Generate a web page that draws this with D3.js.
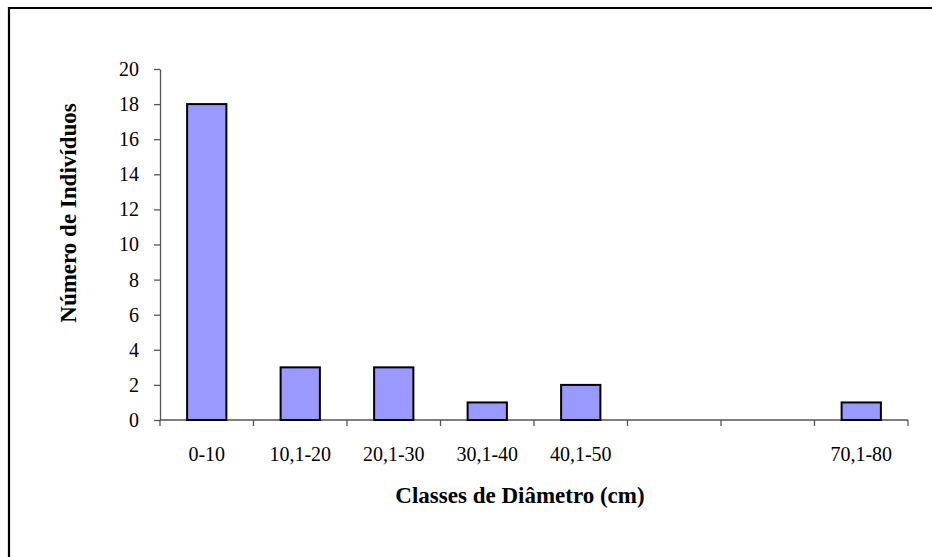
<!DOCTYPE html>
<html lang="pt">
<head>
    <meta charset="UTF-8">
    <title>Classes de Diâmetro</title>
    <script src="https://d3js.org/d3.v7.min.js"></script>
    <style>
        body{
            margin: 0;
            background: #fff;
        }
        .axis path,
        .axis line{
            fill: none;
            stroke: #555;
            stroke-width: 1.3;
        }
        .axis text{
            font-family: "Liberation Serif", "Times New Roman", serif;
            font-size: 20px;
            fill: black;
        }
        .title{
            font-family: "Liberation Serif", "Times New Roman", serif;
            font-size: 23px;
            font-weight: bold;
        }
    </style>
</head>
<body>
    <script>
        // dados
        var categories = ["0-10","10,1-20","20,1-30","30,1-40","40,1-50","50,1-60","60,1-70","70,1-80"];
        var tickLabels = ["0-10","10,1-20","20,1-30","30,1-40","40,1-50","","","70,1-80"];
        var values = [18,3,3,1,2,0,0,1];
        var yTicks = [0,2,4,6,8,10,12,14,16,18,20];

        var w = 932;
        var h = 557;
        var padLeft = 160, padRight = 908, padTop = 69, padBottom = 420;

        var svg = d3.select("body")
            .append("svg")
            .attr("width", w)
            .attr("height", h);

        // moldura (cortada à direita e em baixo)
        svg.append("path")
            .attr("d", "M9,560 L9,8 L940,8")
            .attr("fill", "none")
            .attr("stroke", "black")
            .attr("stroke-width", 2.2);

        var xScale = d3.scaleBand()
            .domain(categories)
            .range([padLeft, padRight])
            .paddingInner(0.58)
            .paddingOuter(0.29);

        var yScale = d3.scaleLinear()
            .domain([0, 20])
            .range([padBottom, padTop]);

        // eixo X: marcas nas fronteiras das classes
        var xAxis = d3.axisBottom(xScale)
            .tickSize(0)
            .tickPadding(27)
            .tickFormat((d, i) => tickLabels[i]);

        var gx = svg.append("g")
            .classed("axis", true)
            .attr("transform", `translate(0, ${padBottom})`)
            .call(xAxis);
        gx.select(".domain").attr("d", `M${padLeft},0H${padRight}`);

        var step = (padRight - padLeft) / categories.length;
        gx.selectAll("line.sep")
            .data(d3.range(categories.length + 1))
            .enter()
            .append("line")
            .classed("sep", true)
            .attr("x1", d => padLeft + d * step)
            .attr("x2", d => padLeft + d * step)
            .attr("y1", 0)
            .attr("y2", 6);

        var yAxis = d3.axisLeft(yScale)
            .tickValues(yTicks)
            .tickSize(6)
            .tickPadding(15)
            .tickSizeOuter(0);

        svg.append("g")
            .classed("axis", true)
            .attr("transform", `translate(${padLeft}, 0)`)
            .call(yAxis);

        // barras
        svg.selectAll("rect.bar")
            .data(values.map((v, i) => ({cat: categories[i], v: v})).filter(d => d.v > 0))
            .enter()
            .append("rect")
            .classed("bar", true)
            .attr("x", d => xScale(d.cat))
            .attr("y", d => yScale(d.v))
            .attr("width", xScale.bandwidth())
            .attr("height", d => padBottom - yScale(d.v))
            .attr("fill", "#9999ff")
            .attr("stroke", "black")
            .attr("stroke-width", 2);

        svg.append("text")
            .classed("title", true)
            .attr("x", 520)
            .attr("y", 503)
            .attr("text-anchor", "middle")
            .text("Classes de Diâmetro (cm)");

        svg.append("text")
            .classed("title", true)
            .attr("transform", "translate(76, 213) rotate(-90)")
            .attr("text-anchor", "middle")
            .text("Número de Indivíduos");
    </script>
</body>
</html>
